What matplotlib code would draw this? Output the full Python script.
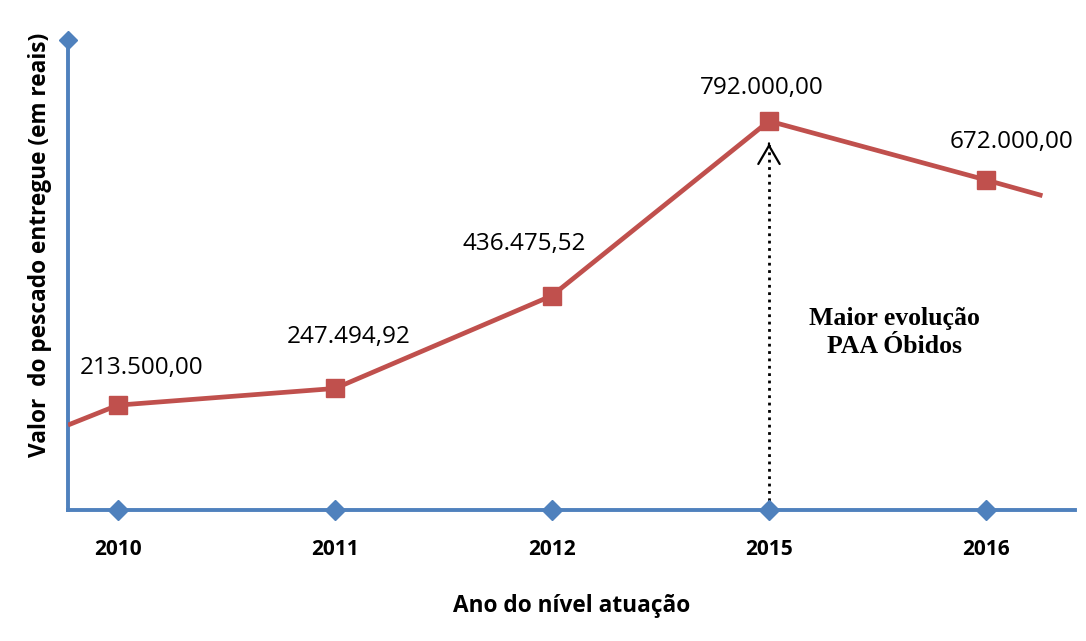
import matplotlib.pyplot as plt

anos = ["2010", "2011", "2012", "2015", "2016"]
valores = [213500.00, 247494.92, 436475.52, 792000.00, 672000.00]
rotulos = ["213.500,00", "247.494,92", "436.475,52", "792.000,00", "672.000,00"]
# the line runs a little past the first and last point
ext_x = [-0.23, 4.26]
ext_y = [173000, 640000]

azul = "#4F81BD"
vermelho = "#C0504D"

fig = plt.figure(figsize=(10.86, 6.41), dpi=100)
ax = fig.add_axes([68 / 1086, 131 / 641, 1007 / 1086, 470 / 641])
ax.set_xlim(-0.23, 4.41)
ax.set_ylim(0, 957000)

x = list(range(len(anos)))
ax.plot([ext_x[0]] + x + [ext_x[1]], [ext_y[0]] + valores + [ext_y[1]],
        color=vermelho, lw=3.4, zorder=3, solid_capstyle="butt")
ax.plot(x, valores, ls="none", marker="s", ms=13, color=vermelho, zorder=4)

for s in ["top", "right"]:
    ax.spines[s].set_visible(False)
for s in ["left", "bottom"]:
    ax.spines[s].set_color(azul)
    ax.spines[s].set_linewidth(2.8)
ax.plot(x, [0] * len(x), ls="none", marker="D", ms=10.5, color=azul, clip_on=False, zorder=5)
ax.plot([-0.23], [957000], ls="none", marker="D", ms=9, color=azul, clip_on=False, zorder=5)

ax.set_xticks(x)
ax.set_xticklabels(anos, fontfamily="Open Sans", fontweight="bold", fontsize=15)
ax.tick_params(axis="x", length=0, pad=21)
ax.set_yticks([])

offsets = [(17, 27), (10, 37), (-20, 37), (-5, 24), (18, 27)]
for xi, v, r, o in zip(x, valores, rotulos, offsets):
    ax.annotate(r, (xi, v), xytext=o, textcoords="offset points",
                ha="center", va="center", fontsize=17.5, fontfamily="Open Sans")

# dotted shaft plus a solid open head
ax.plot([3, 3], [5000, 745000], ls=":", lw=2, color="black", zorder=2)
ax.annotate("", xy=(3, 752000), xytext=(3, 740000),
            arrowprops=dict(arrowstyle="->,head_length=0.6,head_width=0.35",
                            lw=1.6, color="black", mutation_scale=22))
ax.text(3.58, 361000, "Maior evolução\nPAA Óbidos", ha="center", va="center",
        fontfamily="Liberation Serif", fontweight="bold", fontsize=18.5, linespacing=1.25)

ax.set_xlabel("Ano do nível atuação", fontfamily="Open Sans", fontweight="bold",
              fontsize=16.3, labelpad=24)
ax.set_ylabel("Valor  do pescado entregue (em reais)", fontfamily="Open Sans",
              fontweight="bold", fontsize=16.3)
ax.yaxis.set_label_coords(-0.016, 0.564)

fig.savefig("out.png", dpi=100)
